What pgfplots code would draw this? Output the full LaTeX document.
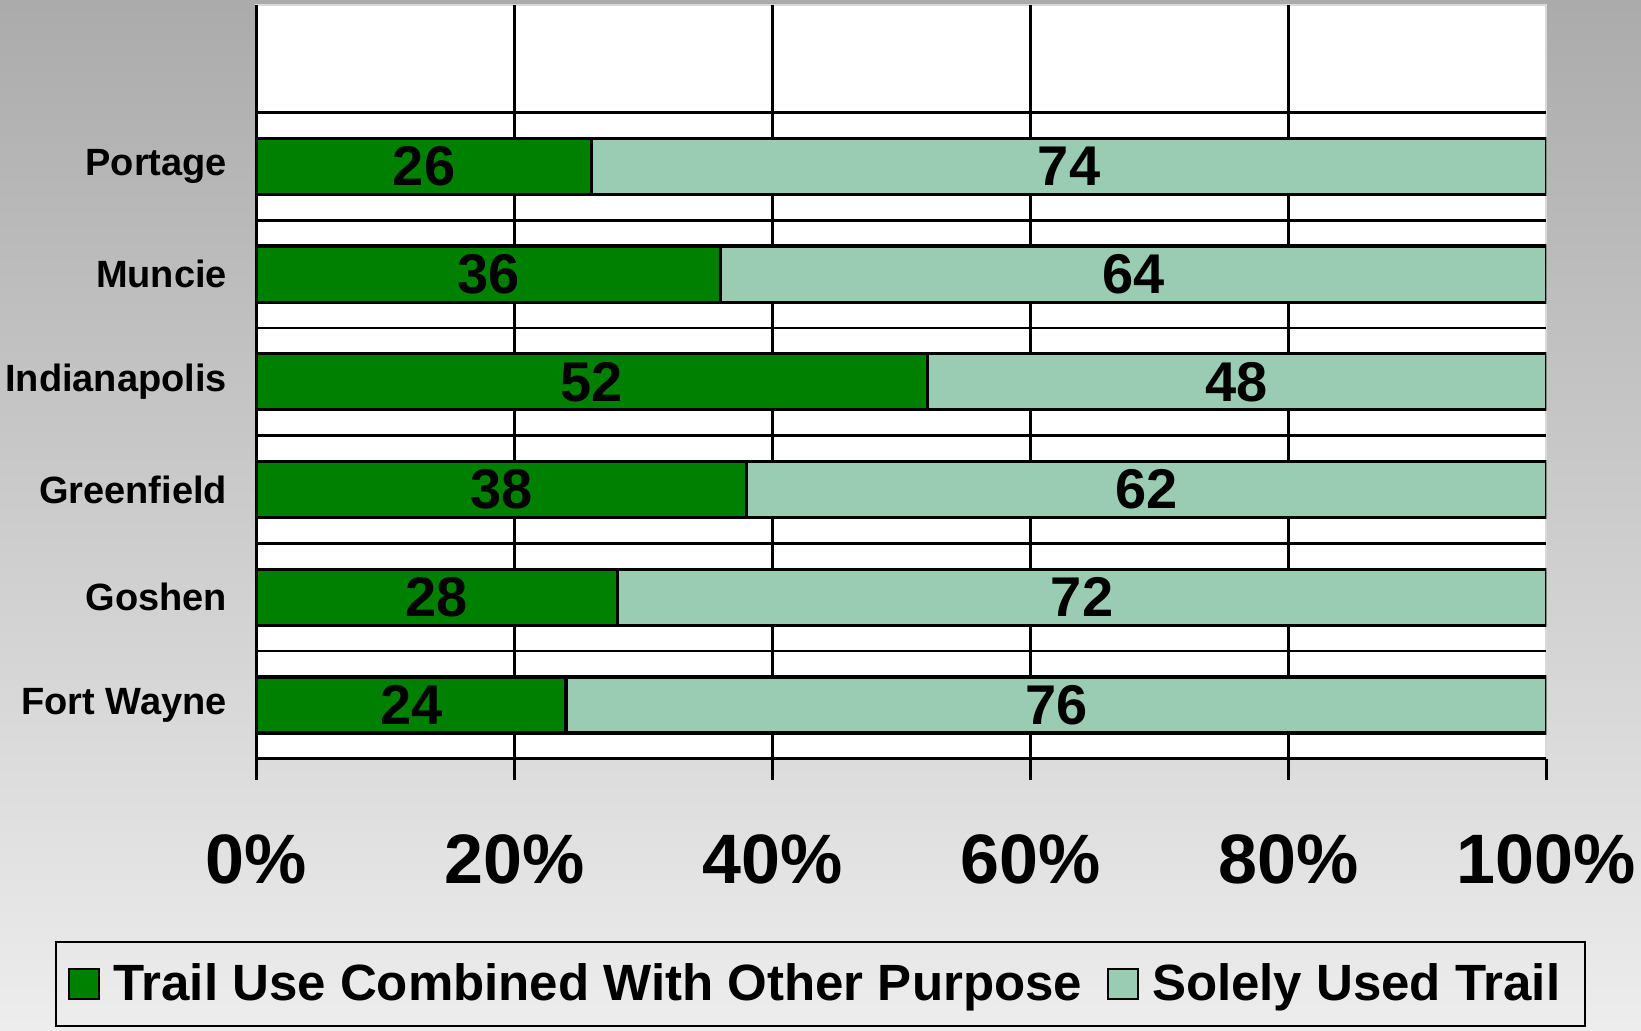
\documentclass[border=0pt]{standalone}
\usepackage{pgfplots}
\pgfplotsset{compat=1.18}
\usepackage{fontspec}
\setmainfont{Liberation Sans}
\definecolor{darkgreen}{RGB}{0,128,0}
\definecolor{lightgreen}{RGB}{153,204,179}
\definecolor{bgtop}{gray}{0.67}
\definecolor{bgbot}{gray}{0.93}
\begin{document}
\begin{tikzpicture}
\useasboundingbox (0,0) rectangle (820.5pt,515pt);
\shade[top color=bgtop, bottom color=bgbot] (0,0) rectangle (820.5pt,515pt);
\begin{axis}[
  at={(128.2pt,135.6pt)}, anchor=south west,
  scale only axis, width=645pt, height=377pt,
  xbar stacked, bar width=0.52,
  xmin=0, xmax=100, ymin=0, ymax=7,
  /pgf/number format/assume math mode=true,
  axis lines=left, axis line style={-, line width=1.4pt, black},
  axis background/.style={fill=white, draw=black!15, line width=1pt},
  tick align=outside,
  tick style={black, line width=1.4pt},
  major tick length=10.5pt,
  minor tick length=5pt,
  xtick={0,20,40,60,80,100},
  xticklabels={0\%,20\%,40\%,60\%,80\%,100\%},
  xticklabel style={font=\fontsize{35}{35}\selectfont\bfseries, anchor=center, inner sep=0pt, yshift=-40pt},
  extra x ticks={20,40,60,80}, extra x tick labels={},
  extra x tick style={grid=major},
  ytick={0.5,1.5,2.5,3.5,4.5,5.5},
  yticklabels={Fort Wayne,Goshen,Greenfield,Indianapolis,Muncie,Portage},
  ytick style={draw=none},
  yticklabel style={font=\fontsize{19}{19}\selectfont\bfseries, anchor=east, inner sep=0pt, xshift=-4pt},
  minor ytick={0,1,2,3,4,5,6,7},
  extra y ticks={1,2,3,4,5,6}, extra y tick labels={},
  extra y tick style={grid=major, ytick style={draw=none}},
  grid style={black, line width=1.4pt},
  legend columns=2,
  legend style={at={(0.4375,-0.2984)}, anchor=center, draw=black, line width=1pt, fill=none,
    font=\fontsize{25.5}{30}\selectfont\bfseries,
    inner xsep=6pt, inner ysep=8pt,
    nodes={inner xsep=6.5pt, inner ysep=3pt},
    /tikz/every even column/.append style={column sep=6pt}},
  legend image code/.code={\draw[#1, line width=1pt] (0pt,-7.5pt) rectangle (15pt,7.5pt);},
  nodes near coords,
  every node near coord/.append style={font=\fontsize{28}{28}\selectfont\bfseries, black},
]
\addplot[fill=darkgreen, draw=black, line width=1.6pt] coordinates {
  (24,0.5) (28,1.5) (38,2.5) (52,3.5) (36,4.5) (26,5.5)};
\addlegendentry{Trail Use Combined With Other Purpose}
\addplot[fill=lightgreen, draw=black, line width=1.6pt] coordinates {
  (76,0.5) (72,1.5) (62,2.5) (48,3.5) (64,4.5) (74,5.5)};
\addlegendentry{Solely Used Trail}
\end{axis}
\end{tikzpicture}
\end{document}
